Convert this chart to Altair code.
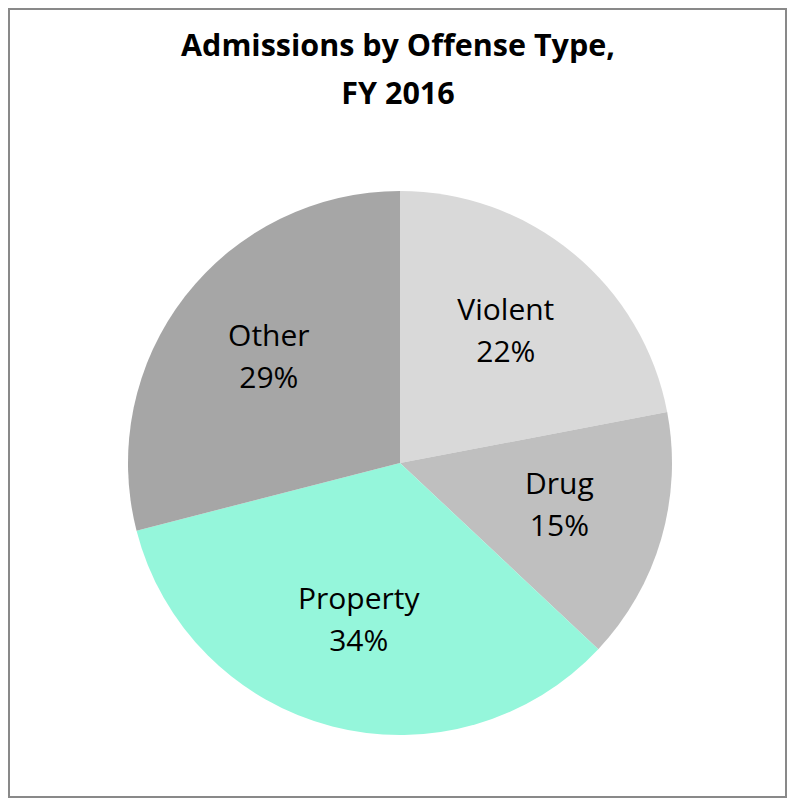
import altair as alt
import pandas as pd

categories = ["Violent", "Drug", "Property", "Other"]
shares = [22, 15, 34, 29]
colors = ["#d9d9d9", "#bfbfbf", "#95f6db", "#a6a6a6"]
title_lines = ["Admissions by Offense Type,", "FY 2016"]

df = pd.DataFrame({"cat": categories, "share": shares, "idx": list(range(len(categories)))})
df["label"] = [f"{c}\n{s}%" for c, s in zip(categories, shares)]

W, H = 779, 680
TOP = 110

base = alt.Chart(df).encode(
    theta=alt.Theta("share:Q", stack=True),
    order=alt.Order("idx:Q", sort="ascending"),
    x=alt.value(392),
    y=alt.value(345),
)

pie = base.mark_arc(radius=272).encode(
    color=alt.Color("cat:N", scale=alt.Scale(domain=categories, range=colors), legend=None)
)

labels = base.mark_text(
    radius=166, fontSize=30, font="Open Sans", lineBreak="\n", lineHeight=42,
    color="black", align="center", baseline="middle", dy=-24
).encode(text="label:N")

border = alt.Chart(pd.DataFrame({"a": [0]})).mark_rect(
    fill="white", fillOpacity=0, stroke="#898989", strokeWidth=2
).encode(
    x=alt.value(1), x2=alt.value(W - 1), y=alt.value(-TOP + 1), y2=alt.value(H - 1)
)

title = alt.Chart(pd.DataFrame({"t": ["\n".join(title_lines)]})).mark_text(
    font="Open Sans", fontSize=30.5, fontWeight="bold", color="black",
    lineBreak="\n", lineHeight=48, align="center", baseline="alphabetic"
).encode(text="t:N", x=alt.value(390), y=alt.value(-62))

chart = alt.layer(border, pie, labels, title).properties(
    width=W,
    height=H,
    autosize=alt.AutoSizeParams(type="none"),
    padding={"left": 0, "right": 0, "top": TOP, "bottom": 0},
    background="white",
).configure_view(stroke=None)

chart.save("out.html", embed_options={"renderer": "svg", "actions": False})
